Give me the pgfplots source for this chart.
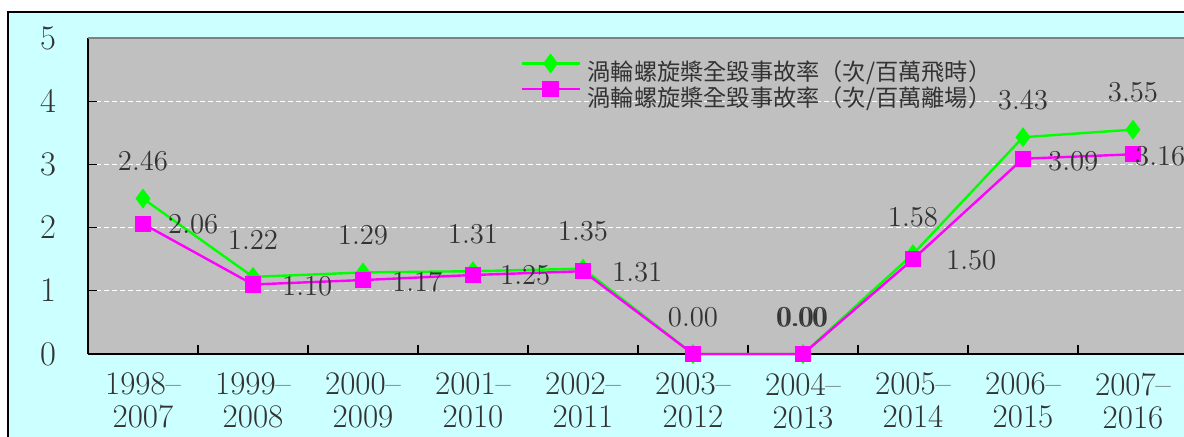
\documentclass[border=0pt]{standalone}
\usepackage{pgfplots}
\usepackage{pgfplotstable}
\pgfplotsset{compat=1.18}
\usepackage{fontspec}
\newfontfamily\cjk{Noto Sans CJK TC}
\definecolor{bgcyan}{HTML}{CCFFFF}
\definecolor{plotgray}{HTML}{C0C0C0}
\definecolor{lgreen}{HTML}{00FF00}
\definecolor{lmag}{HTML}{FF00FF}
\definecolor{txt}{HTML}{333333}
\definecolor{topgray}{HTML}{808080}

\pgfplotstableread{
x y dx dy op
0 2.46 0 18.5 1
1 1.22 0 18.5 1
2 1.29 0 18.5 1
3 1.31 0 18.5 1
4 1.35 0 18.5 1
5 0 0 18.5 1
6 0 0 18.5 1
7 1.58 0 18.5 1
8 3.43 0 18.5 1
9 3.55 0 18.5 1
}\greendata

\pgfplotstableread{
x y dx dy op
0 2.06 12 0 1
1 1.10 14 -1 1
2 1.17 14 -1 1
3 1.25 13 0 1
4 1.31 14 -0.5 1
5 0 -14 18.5 0
6 0 -14 18.5 1
7 1.50 16 -0.5 1
8 3.09 12 -1.5 1
9 3.16 0.5 -1 1
}\magdata

\begin{document}
\begin{tikzpicture}
\path[use as bounding box] (-44pt,-41.5pt) rectangle (548pt,177pt);
\fill[white] (-44pt,-41.5pt) rectangle (548pt,177pt);
\draw[fill=bgcyan, line width=0.8pt] (-40pt,-80pt) rectangle (620pt,171pt);
\begin{axis}[
  at={(0pt,0pt)}, anchor=south west,
  scale only axis, width=550pt, height=158pt,
  xmin=-0.5, xmax=9.5, ymin=0, ymax=5,
  clip=false,
  axis lines=left,
  axis line style={-, line width=1pt, black},
  axis background/.style={fill=plotgray},
  tick align=inside,
  major tick length=4.5pt, minor tick length=4.5pt,
  every tick/.style={black, line width=0.6pt},
  xtick={0,...,9},
  minor xtick={0.5,1.5,...,8.5},
  major x tick style={draw=none},
  xticklabels={{1998--\\2007},{1999--\\2008},{2000--\\2009},{2001--\\2010},{2002--\\2011},{2003--\\2012},{2004--\\2013},{2005--\\2014},{2006--\\2015},{2007--\\2016}},
  xticklabel style={align=center, font=\fontsize{16.5}{16.5}\selectfont, text=txt, yshift=-6pt},
  ytick={0,1,2,3,4,5},
  yticklabel style={font=\fontsize{16}{18}\selectfont, text=txt, xshift=-12.5pt},
  ymajorgrids,
  grid style={white, line width=0.6pt, dash pattern=on 2.5pt off 1.5pt},
  after end axis/.code={\draw[topgray, line width=1pt] (rel axis cs:0,1) -- (rel axis cs:1.05,1);},
  legend cell align=left,
  legend style={at={(0.3927,0.946)}, anchor=north west, draw=none, fill=none,
    inner sep=0pt, row sep=0pt, column sep=3.5pt,
    font=\cjk\fontsize{11.6}{11.6}\selectfont, text=txt,
    nodes={inner sep=0pt, text height=9.3pt, text depth=0.7pt}},
  legend image code/.code={\draw[mark repeat=2, mark phase=2, #1] plot coordinates {(0pt,4.3pt) (14.5pt,4.3pt) (29pt,4.3pt)};},
  point meta=y,
  nodes near coords={\pgfmathprintnumber[fixed,fixed zerofill,precision=2]{\pgfplotspointmeta}},
]
\addplot[color=lgreen, line width=1.2pt, mark=diamond*, mark size=4pt, mark options={fill=lgreen, draw=lgreen},
  visualization depends on={\thisrow{dx} \as \dx},
  visualization depends on={\thisrow{dy} \as \dy},
  visualization depends on={\thisrow{op} \as \op},
  every node near coord/.style={anchor=center, inner sep=0pt, xshift=\dx pt, yshift=\dy pt, text=txt, text opacity=\op, font=\fontsize{15.5}{17}\selectfont}]
  table[x=x, y=y] {\greendata};
\addlegendentry{渦輪螺旋槳全毀事故率（次/百萬飛時）}
\addplot[color=lmag, line width=1.2pt, mark=square*, mark size=3.5pt, mark options={fill=lmag, draw=lmag},
  visualization depends on={\thisrow{dx} \as \dx},
  visualization depends on={\thisrow{dy} \as \dy},
  visualization depends on={\thisrow{op} \as \op},
  every node near coord/.style={anchor=west, inner sep=0pt, xshift=\dx pt, yshift=\dy pt, text=txt, text opacity=\op, font=\fontsize{15.5}{17}\selectfont}]
  table[x=x, y=y] {\magdata};
\addlegendentry{渦輪螺旋槳全毀事故率（次/百萬離場）}
\end{axis}
\end{tikzpicture}
\end{document}
